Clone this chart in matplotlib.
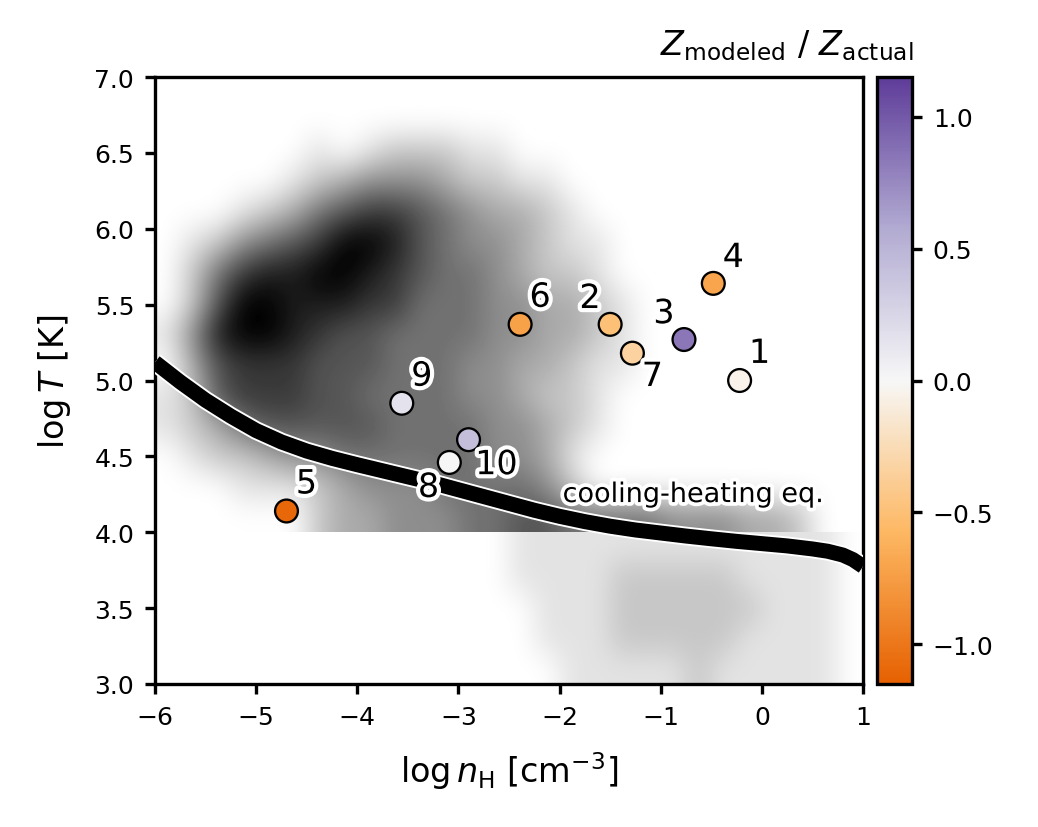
import numpy as np
import matplotlib
matplotlib.use("Agg")
import matplotlib.pyplot as plt
from matplotlib.colors import LinearSegmentedColormap, Normalize
from matplotlib.cm import ScalarMappable
import matplotlib.patheffects as pe

# ---------------- data ----------------
# phase-diagram grey level (0 = empty, 9 = densest)
# columns: log n_H bin centres -5.875 ... 0.875 (step 0.25)
# rows: log T bin centres 6.9 (top) ... 3.1 (bottom) (step 0.2)
hist_rows = [
    "0000000000000000000000000000",  # 6.9
    "0000000000000000000000000000",  # 6.7
    "0000001012221100000000000000",  # 6.5
    "0000012344432211000000000000",  # 6.3
    "0001235677654332100000000000",  # 6.1
    "0124567998654432110000000000",  # 5.9
    "0257889987655432210000000000",  # 5.7
    "0269988877555443321000000000",  # 5.5
    "1489987665555443321000000000",  # 5.3
    "0367776665554433211000000000",  # 5.1
    "1267776655554432210000000000",  # 4.9
    "1235666665555443210000000000",  # 4.7
    "0122344555555443100000000000",  # 4.5
    "0001112344455554200000000000",  # 4.3
    "0000002334445566555544433200",  # 4.1
    "0000000000000011111111111110",  # 3.9
    "0000000000000011112222211110",  # 3.7
    "0000000000000001112222221110",  # 3.5
    "0000000000000001112222211110",  # 3.3
    "0000000000000000111112111110",  # 3.1
]
hist_logT_split = 4.0   # upper population is cut sharply at log T = 4

# cooling-heating equilibrium curve
eq_logn = [-6.0, -5.75, -5.5, -5.25, -5.0, -4.75, -4.5, -4.25, -4.0, -3.75, -3.5,
           -3.25, -3.0, -2.75, -2.5, -2.25, -2.0, -1.75, -1.5, -1.25, -1.0, -0.75,
           -0.5, -0.25, 0.0, 0.25, 0.5, 0.65, 0.8, 0.9, 1.0]
eq_logT = [5.12, 4.99, 4.87, 4.765, 4.67, 4.595, 4.535, 4.487, 4.445, 4.405, 4.365,
           4.325, 4.28, 4.235, 4.19, 4.145, 4.105, 4.07, 4.04, 4.015, 3.995, 3.975,
           3.957, 3.94, 3.925, 3.91, 3.89, 3.875, 3.85, 3.82, 3.775]

# numbered systems
pt_ids = [1, 2, 3, 4, 5, 6, 7, 8, 9, 10]
pt_logn = [-0.22, -1.50, -0.77, -0.48, -4.70, -2.39, -1.28, -3.09, -3.56, -2.90]
pt_logT = [5.00, 5.37, 5.27, 5.64, 4.14, 5.37, 5.18, 4.46, 4.85, 4.61]
pt_ratio = [-0.05, -0.50, 0.84, -0.70, -1.10, -0.72, -0.34, 0.00, 0.16, 0.43]
# label offsets (points)
lab_dx = [4.8, -4.8, -4.8, 4.8, 4.8, 4.8, 4.8, -5.0, 4.8, 6.7]
lab_dy = [6.5, 6.2, 6.2, 6.2, 6.5, 6.5, -5.6, -6.0, 6.5, -6.0]

xticks = [-6, -5, -4, -3, -2, -1, 0, 1]
yticks = [3.0, 3.5, 4.0, 4.5, 5.0, 5.5, 6.0, 6.5, 7.0]
cbar_ticks = [-1.0, -0.5, 0.0, 0.5, 1.0]
vlim = 1.15

# ---------------- figure ----------------
plt.rcParams["font.family"] = ["DejaVu Sans"]
fig = plt.figure(figsize=(3.46, 2.76), dpi=300)
ax = fig.add_axes([155 / 1038, 1 - 685 / 828, 708 / 1038, 607 / 828])
cax = fig.add_axes([877 / 1038, 1 - 685 / 828, 35 / 1038, 607 / 828])

grid = np.array([[int(c) for c in r] for r in hist_rows], dtype=float)
rowT = np.linspace(6.9, 3.1, len(hist_rows))
upper = grid[rowT > hist_logT_split]
lower = grid[rowT < hist_logT_split]
ax.imshow(upper, extent=[-6, 1, hist_logT_split, 7], origin="upper", cmap="gray_r",
          vmin=0, vmax=9, interpolation="bicubic", aspect="auto", zorder=1)
ax.imshow(lower, extent=[-6, 1, 3, hist_logT_split], origin="upper", cmap="gray_r",
          vmin=0, vmax=9, interpolation="bicubic", aspect="auto", zorder=1)

ax.plot(eq_logn, eq_logT, color="black", lw=3.6, solid_capstyle="butt",
        solid_joinstyle="round", zorder=3,
        path_effects=[pe.Stroke(linewidth=4.5, foreground="white"), pe.Normal()])
ax.text(-1.97, 4.245, "cooling-heating eq.", fontsize=6.5, ha="left", va="center", zorder=4,
        path_effects=[pe.withStroke(linewidth=1.8, foreground="white")])

cmap = LinearSegmentedColormap.from_list(
    "puor5", ["#e66101", "#fdb863", "#f7f7f7", "#b2abd2", "#5e3c99"])
norm = Normalize(vmin=-vlim, vmax=vlim)
ax.scatter(pt_logn, pt_logT, c=pt_ratio, cmap=cmap, norm=norm, s=30,
           edgecolors="black", linewidths=0.55, zorder=5)
for i, x, y, dx, dy in zip(pt_ids, pt_logn, pt_logT, lab_dx, lab_dy):
    ax.annotate(str(i), (x, y), xytext=(dx, dy), textcoords="offset points",
                ha="center", va="center", fontsize=8, zorder=6,
                path_effects=[pe.withStroke(linewidth=2.0, foreground="white")])

ax.set_xlim(-6, 1)
ax.set_ylim(3, 7)
ax.set_xticks(xticks)
ax.set_yticks(yticks)
ax.tick_params(labelsize=6, length=2.5, width=0.8, pad=2.5)
ax.set_xlabel(r"$\log n_\mathrm{H}$ [cm$^{-3}$]", fontsize=8, labelpad=5)
ax.set_ylabel(r"$\log T$ [K]", fontsize=8, labelpad=5)

cb = fig.colorbar(ScalarMappable(norm=norm, cmap=cmap), cax=cax, ticks=cbar_ticks)
cb.ax.tick_params(labelsize=6, length=2.5, width=0.8, pad=2.5)
cb.outline.set_linewidth(0.8)
cax.text(1.06, 1.025, r"$Z_\mathrm{modeled}$ / $Z_\mathrm{actual}$", transform=cax.transAxes,
         ha="right", va="bottom", fontsize=8)

fig.savefig("out.png", dpi=300)
